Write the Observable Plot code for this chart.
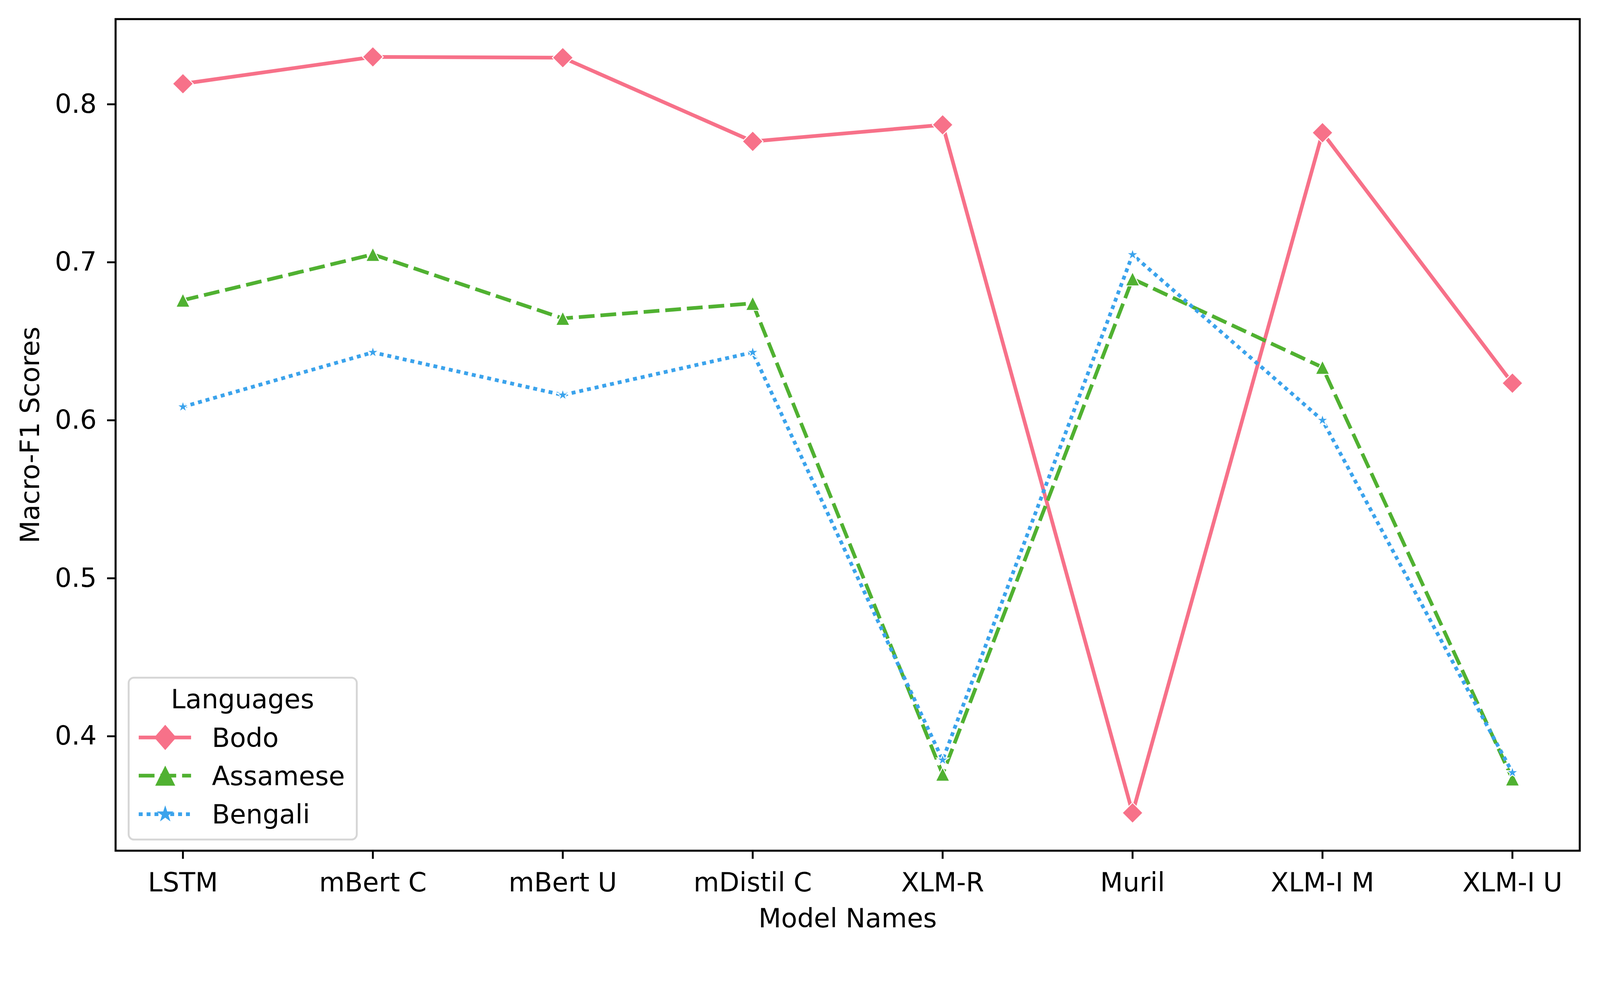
<!DOCTYPE html>
<html><head><meta charset="utf-8">
<script src="https://cdn.jsdelivr.net/npm/d3@7"></script>
<script src="https://cdn.jsdelivr.net/npm/@observablehq/plot@0.6"></script>
<style>html,body{margin:0;padding:0;background:#fff;overflow:hidden}</style>
</head><body><div id="chart"></div>
<script>
// ---- data ----
const models = ["LSTM", "mBert C", "mBert U", "mDistil C", "XLM-R", "Muril", "XLM-I M", "XLM-I U"];
const languages = ["Bodo", "Assamese", "Bengali"];
const bodo     = [0.813, 0.830, 0.8295, 0.7765, 0.787, 0.3515, 0.782, 0.6235];
const assamese = [0.676, 0.705, 0.6645, 0.674, 0.376, 0.6895, 0.6335, 0.373];
const bengali  = [0.6085, 0.643, 0.616, 0.643, 0.385, 0.7048, 0.600, 0.377];
const yTicks = [0.4, 0.5, 0.6, 0.7, 0.8];
const xLabel = "Model Names";
const yLabel = "Macro-F1 Scores";
const legendTitle = "Languages";

// ---- styling ----
const colors = ["#f77189", "#50b131", "#3ba3ec"];
const W = 4229, H = 2515;
const FS = 69.4;
const LW = 9.8;

// custom matplotlib-like symbols; Plot passes size = r*r*PI, so h = r
function diamondOf(ratio) {
  return {draw(ctx, size) { const h = Math.sqrt(size / Math.PI);
    ctx.moveTo(0, -h); ctx.lineTo(h * ratio, 0); ctx.lineTo(0, h); ctx.lineTo(-h * ratio, 0); ctx.closePath(); }};
}
const triangleSym = {draw(ctx, size) { const h = Math.sqrt(size / Math.PI);
  ctx.moveTo(0, -h); ctx.lineTo(h, h); ctx.lineTo(-h, h); ctx.closePath(); }};
const starSym = {draw(ctx, size) { const R = Math.sqrt(size / Math.PI), r = R * 0.381966;
  for (let i = 0; i < 10; i++) { const a = -Math.PI / 2 + i * Math.PI / 5, rr = i % 2 ? r : R;
    const x = rr * Math.cos(a), y = rr * Math.sin(a); i ? ctx.lineTo(x, y) : ctx.moveTo(x, y); }
  ctx.closePath(); }};

const styleOf = {
  Bodo:     {dash: null,        symbol: diamondOf(1), legendSymbol: diamondOf(0.87), r: 27.3, lr: 33.5},
  Assamese: {dash: "41.7,15.6", symbol: triangleSym,  legendSymbol: triangleSym,     r: 18.5, lr: 26.5},
  Bengali:  {dash: "10.4,10.4", symbol: starSym,      legendSymbol: starSym,         r: 16.5, lr: 23.5}
};

const series = [bodo, assamese, bengali];
const data = languages.flatMap((lang, i) => models.map((m, j) => ({model: m, language: lang, value: series[i][j]})));
const vals = data.map(d => d.value);
const lo = d3.min(vals), hi = d3.max(vals), pad = (hi - lo) * 0.05;

const marks = [];
languages.forEach((lang, i) => {
  const s = styleOf[lang];
  const sub = data.filter(d => d.language === lang);
  marks.push(Plot.line(sub, {x: "model", y: "value", stroke: colors[i], strokeWidth: LW,
    strokeDasharray: s.dash || undefined, strokeLinecap: s.dash ? "butt" : "square", strokeLinejoin: "round"}));
  marks.push(Plot.dot(sub, {x: "model", y: "value", symbol: s.symbol, r: s.r,
    fill: colors[i], stroke: "white", strokeWidth: 2.5}));
});
marks.push(
  Plot.frame({stroke: "black", strokeWidth: 5.3}),
  Plot.axisX({tickSize: 22, tickPadding: 36, strokeWidth: 5, label: null, fontSize: FS}),
  Plot.axisY({ticks: yTicks, tickFormat: d3.format(".1f"), tickSize: 22, tickPadding: 28, strokeWidth: 5, label: null, fontSize: FS}),
  Plot.text([xLabel], {text: d => d, frameAnchor: "bottom", dy: 203, lineAnchor: "bottom", textAnchor: "middle", fontSize: FS, fill: "black"}),
  Plot.text([yLabel], {text: d => d, frameAnchor: "left", dx: -202, rotate: -90, lineAnchor: "bottom", textAnchor: "middle", fontSize: FS, fill: "black"})
);

const chart = Plot.plot({
  width: W, height: H,
  marginLeft: 305, marginRight: 54, marginTop: 50, marginBottom: 266,
  style: {fontFamily: "DejaVu Sans", fontSize: FS + "px", background: "white", color: "black"},
  x: {type: "point", domain: models, padding: 0.35},
  y: {domain: [lo - pad, hi + pad]},
  marks
});
document.getElementById("chart").appendChild(chart);

// ---- legend ----
const svg = d3.select(chart);
const g = svg.append("g").attr("font-family", "DejaVu Sans").attr("font-size", FS).attr("text-anchor", "start");
g.append("rect").attr("x", 340).attr("y", 1792).attr("width", 603).attr("height", 428)
  .attr("rx", 14).attr("fill", "white").attr("fill-opacity", 0.8).attr("stroke", "#d6d6d6").attr("stroke-width", 5);
g.append("text").attr("x", 641).attr("y", 1873).attr("text-anchor", "middle").attr("fill", "black").text(legendTitle);
const rowY = [1950, 2051, 2153];
languages.forEach((lang, i) => {
  const s = styleOf[lang], y = rowY[i];
  g.append("line").attr("x1", 366.7).attr("x2", 505).attr("y1", y).attr("y2", y)
    .attr("stroke", colors[i]).attr("stroke-width", LW)
    .attr("stroke-dasharray", s.dash || null).attr("stroke-linecap", "butt");
  const size = s.lr * s.lr * Math.PI;
  g.append("path").attr("transform", `translate(436.7,${y})`).attr("d", d3.symbol(s.legendSymbol, size)()).attr("fill", colors[i]);
  g.append("text").attr("x", 560).attr("y", y + 25).attr("fill", "black").text(lang);
});
</script>
</body></html>
